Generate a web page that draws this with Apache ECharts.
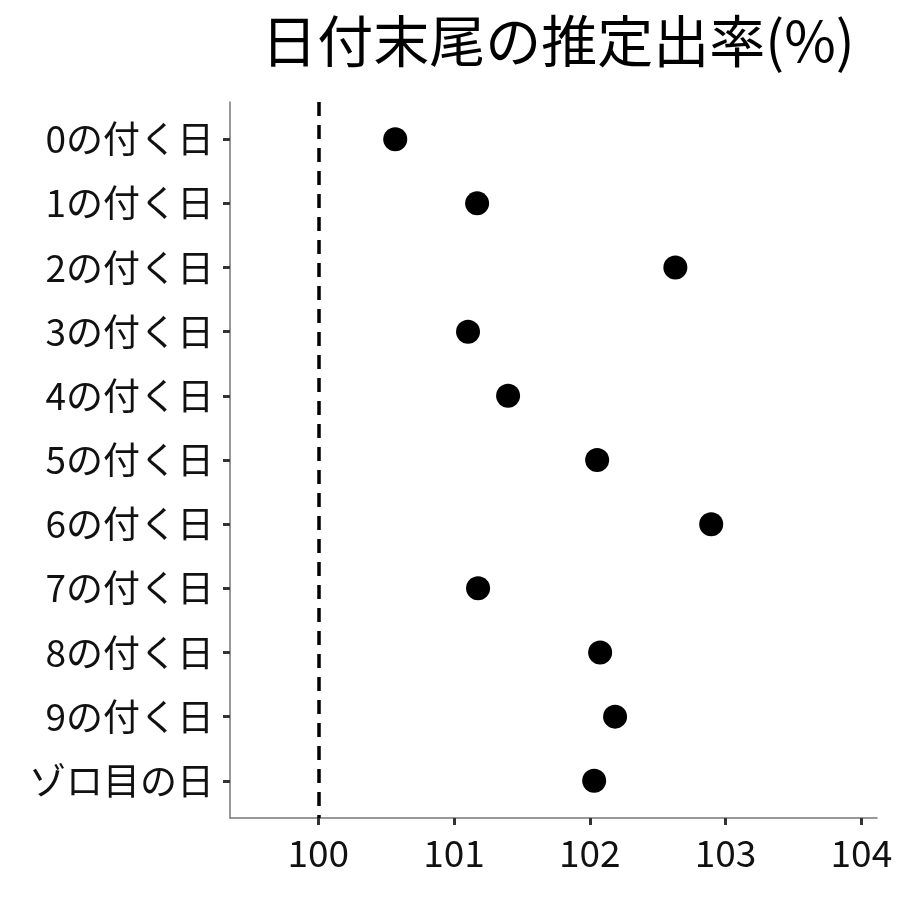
<!DOCTYPE html>
<html><head><meta charset="utf-8">
<script src="https://cdn.jsdelivr.net/npm/echarts@6/dist/echarts.min.js"></script>
<style>html,body{margin:0;padding:0;background:#fff}#c{width:900px;height:900px}</style>
</head><body><div id="c"></div>
<script>
const categories = ["0の付く日","1の付く日","2の付く日","3の付く日","4の付く日","5の付く日","6の付く日","7の付く日","8の付く日","9の付く日","ゾロ目の日"];
const values = [100.567, 101.17, 102.63, 101.103, 101.398, 102.054, 102.894, 101.177, 102.076, 102.186, 102.032];
const xTicks = [100, 101, 102, 103, 104];
const refValue = 100;

const font = '"Noto Sans CJK JP", "Noto Sans", sans-serif';
const chart = echarts.init(document.getElementById('c'), null, {renderer: 'canvas'});
const yIdx = categories.map((_, i) => i);
chart.setOption({
  animation: false,
  backgroundColor: '#fff',
  title: {
    text: '日付末尾の推定出率(%)',
    left: 553, top: 8, textAlign: 'center',
    textStyle: {fontFamily: font, fontSize: 56, fontWeight: 'normal', color: '#000'}
  },
  grid: {left: 230, right: 23, top: 102, bottom: 82, containLabel: false},
  xAxis: {
    type: 'value', min: 99.35, max: 104.115,
    splitLine: {show: false},
    axisLine: {show: true, onZero: false, lineStyle: {color: '#777', width: 1.5}},
    axisTick: {show: true, length: 7, customValues: xTicks, lineStyle: {color: '#333', width: 3}},
    axisLabel: {customValues: xTicks, margin: 16, fontFamily: font, fontSize: 37, color: '#111'}
  },
  yAxis: {
    type: 'value', min: -0.58, max: 10.58, inverse: true,
    splitLine: {show: false},
    axisLine: {show: true, onZero: false, lineStyle: {color: '#777', width: 1.5}},
    axisTick: {show: true, length: 7, customValues: yIdx, lineStyle: {color: '#333', width: 3}},
    axisLabel: {customValues: yIdx, margin: 16, fontFamily: font, fontSize: 37, color: '#111',
      formatter: v => categories[Math.round(v)] ?? ''}
  },
  series: [{
    type: 'scatter',
    symbol: 'circle', symbolSize: 24,
    itemStyle: {color: '#000', opacity: 1},
    data: values.map((v, i) => [v, i]),
    markLine: {
      silent: true, symbol: 'none', label: {show: false},
      lineStyle: {color: '#000', width: 3.5, type: [14, 9], opacity: 1},
      data: [{xAxis: refValue}]
    }
  }]
});
</script></body></html>
